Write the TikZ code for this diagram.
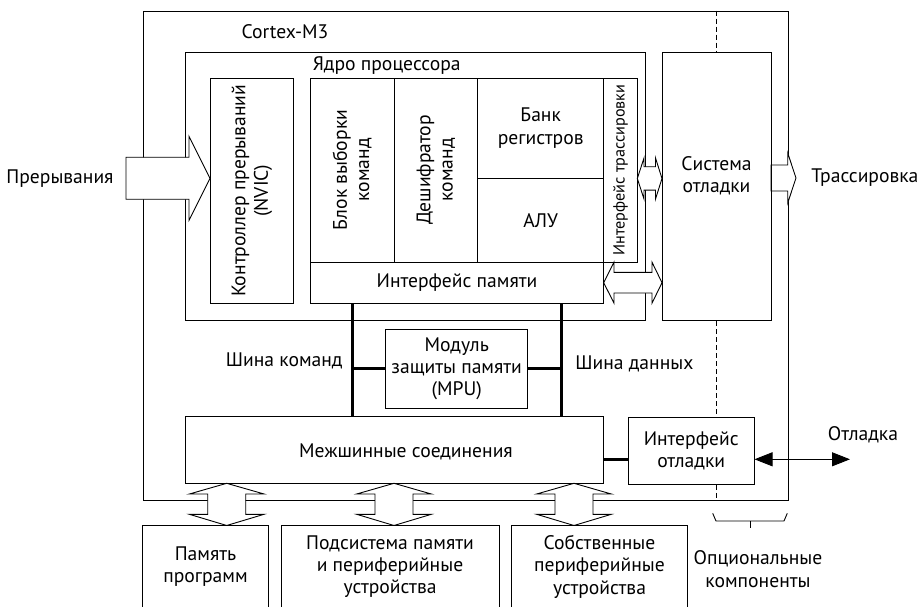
\documentclass[tikz,border=0pt]{standalone}
\usepackage{fontspec}
\setmainfont{PT Sans}
\usetikzlibrary{arrows.meta,calc,positioning}

\begin{document}
\begin{tikzpicture}[x=1pt, y=-1pt, line width=0.9pt,
        box/.style={draw, rectangle, inner sep=0pt, align=center, font=\fontsize{19.6}{22.3}\selectfont},
        txt/.style={inner sep=0pt, align=center, font=\fontsize{19.6}{22.3}\selectfont},
        blk/.style={draw, fill=white, line join=miter},
        bus/.style={line width=3.2pt},
        opt/.style={dash pattern=on 5pt off 3pt, line width=0.8pt}]
        \clip (0,0) rectangle (919,607);

        % outer frames
        \node[box, minimum width=645pt, minimum height=489pt] (cm3) at (465.5,255.5) {};
        \node[txt] (cm3lbl) at (285,32) {Cortex-M3};
        \node[box, minimum width=460.3pt, minimum height=268pt] (core) at (415.2,186.7) {};
        \node[txt] (corelbl) at (386.7,65.7) {Ядро процессора};

        % block arrows
        \draw[blk] (210,178.3) -- (189,136.3) -- (189,157.3) -- (126,157.3) -- (126,199.3) -- (189,199.3) -- (189,220.3) -- cycle;
        \draw[blk] (637.3,178.5) -- (644,158) -- (644,166.8) -- (655.5,166.8) -- (655.5,158) -- (662,178.5)
            -- (655.5,199) -- (655.5,190.2) -- (644,190.2) -- (644,199) -- cycle;
        \draw[blk] (603.7,282.7) -- (614,262.2) -- (614,272.4) -- (652,272.4) -- (652,262.2) -- (662,282.7)
            -- (652,303.2) -- (652,293) -- (614,293) -- (614,303.2) -- cycle;
        \draw[blk] (771,165) -- (787.7,165) -- (787.7,153) -- (796,178) -- (787.7,203) -- (787.7,191) -- (771,191) -- cycle;
        \foreach \x in {226.7,394,574}
            \draw[blk] (\x,483.3) -- ++(37.3,10.7) -- ++(-18.3,0) -- ++(0,20.3) -- ++(18.3,0) -- ++(-37.3,11.2)
                -- ++(-37.3,-11.2) -- ++(18.3,0) -- ++(0,-20.3) -- ++(-18.3,0) -- cycle;

        % processor core
        \node[box, rotate=90, minimum width=225.3pt, minimum height=83.7pt] (nvic) at (251.9,190.7) {Контроллер прерываний\\(NVIC)};
        \node[box, rotate=90, minimum width=184pt, minimum height=83.7pt] (fetch) at (352.2,170) {Блок выборки\\команд};
        \node[box, rotate=90, minimum width=184pt, minimum height=83.7pt] (dec) at (435.9,170) {Дешифратор\\команд};
        \node[box, minimum width=126pt, minimum height=100.3pt] (regs) at (540.7,128.2) {Банк\\регистров};
        \node[box, minimum width=126pt, minimum height=83.7pt] (alu) at (540.7,220.2) {АЛУ};
        \node[box, rotate=90, minimum width=184pt, minimum height=33.6pt, font=\fontsize{16.2}{18}\selectfont] (trc) at (620.5,170) {Интерфейс трассировки};
        \node[box, minimum width=293.4pt, minimum height=41.3pt] (memif) at (457,282.7) {Интерфейс памяти};

        \node[box, minimum width=109pt, minimum height=268pt] (dbg) at (716.5,186.7) {};
        \node[txt] (dbgtxt) at (716.5,176) {Система\\отладки};

        \node[box, minimum width=142pt, minimum height=79.3pt] (mpu) at (456.7,368.7) {Модуль\\защиты памяти\\(MPU)};
        \node[box, minimum width=418pt, minimum height=66.6pt] (icon) at (394,450) {};
        \node[txt] (icontxt) at (406,451.7) {Межшинные соединения};
        \node[box, minimum width=125.7pt, minimum height=67pt] (dbgif) at (691.2,450.8) {Интерфейс\\отладки};

        % outside parts
        \node[box, minimum width=125.6pt, minimum height=82pt] (prog) at (205.5,566.7) {Память\\программ};
        \node[box, minimum width=218pt, minimum height=82pt] (periph) at (390,566.7) {Подсистема памяти\\и периферийные\\устройства};
        \node[box, minimum width=175.6pt, minimum height=82pt] (own) at (599.5,566.7) {Собственные\\периферийные\\устройства};

        % labels
        \node[txt] (irqlbl) at (60,178.3) {Прерывания};
        \node[txt, anchor=west] (trclbl) at (811,178) {Трассировка};
        \node[txt, anchor=east] (ibuslbl) at (343,361) {Шина команд};
        \node[txt, anchor=west] (dbuslbl) at (575,364) {Шина данных};
        \node[txt] (dbglbl) at (863,435) {Отладка};
        \node[txt] (optlbl) at (758,569) {Опциональные\\компоненты};

        % buses
        \coordinate (ibus) at (352.3,368.7);
        \coordinate (dbus) at (561.3,368.7);
        \coordinate (dbgpt) at (850,459.3);
        \draw[bus] (memif.south -| ibus) -- (icon.north -| ibus);
        \draw[bus] (ibus) -- (mpu.west);
        \draw[bus] (memif.south -| dbus) -- (icon.north -| dbus);
        \draw[bus] (dbus) -- (mpu.east);
        \draw[bus] (icon.east |- dbgpt) -- (dbgif.west |- dbgpt);
        \draw[{Triangle[length=18pt,width=14pt]}-{Triangle[length=18pt,width=14pt]}] (dbgif.east |- dbgpt) -- (dbgpt);

        % optional components
        \draw[opt] (cm3.north -| dbg.north) -- (dbg.north);
        \draw[opt] (dbg.south) -- (dbgif.north -| dbg.south);
        \draw[opt] (dbgif.south -| dbg.south) -- (cm3.south -| dbg.south);
        \draw (712.7,513.3) -- (716,521) -- (784,521) -- (787.3,513.3);
        \draw (750,521) -- (750,528.3);
    \end{tikzpicture}
\end{document}
